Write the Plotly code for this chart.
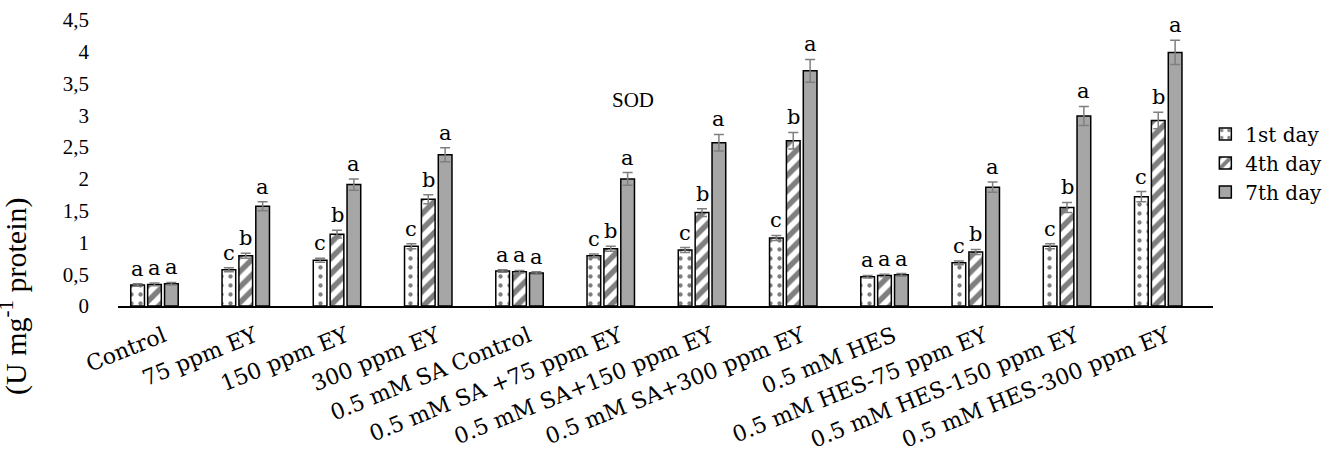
import plotly.graph_objects as go

categories = ["Control", "75 ppm EY", "150 ppm EY", "300 ppm EY", "0.5 mM SA Control",
              "0.5 mM SA +75 ppm EY", "0.5 mM SA+150 ppm EY", "0.5 mM SA+300 ppm EY",
              "0.5 mM HES", "0.5 mM HES-75 ppm EY", "0.5 mM HES-150 ppm EY", "0.5 mM HES-300 ppm EY"]
series_names = ["1st day", "4th day", "7th day"]
day1 = [0.33, 0.57, 0.72, 0.94, 0.55, 0.79, 0.88, 1.07, 0.46, 0.68, 0.94, 1.72]
day4 = [0.34, 0.79, 1.13, 1.68, 0.54, 0.90, 1.47, 2.60, 0.48, 0.85, 1.55, 2.92]
day7 = [0.35, 1.57, 1.91, 2.38, 0.52, 2.00, 2.57, 3.70, 0.49, 1.87, 2.99, 3.99]
err1 = [0.02, 0.03, 0.03, 0.04, 0.02, 0.03, 0.04, 0.04, 0.02, 0.03, 0.04, 0.08]
err4 = [0.02, 0.04, 0.06, 0.07, 0.02, 0.04, 0.06, 0.13, 0.02, 0.04, 0.08, 0.13]
err7 = [0.02, 0.07, 0.09, 0.11, 0.02, 0.10, 0.13, 0.18, 0.02, 0.08, 0.15, 0.19]
letters1 = ["a", "c", "c", "c", "a", "c", "c", "c", "a", "c", "c", "c"]
letters4 = ["a", "b", "b", "b", "a", "b", "b", "b", "a", "b", "b", "b"]
letters7 = ["a", "a", "a", "a", "a", "a", "a", "a", "a", "a", "a", "a"]
y_ticks = [0, 0.5, 1, 1.5, 2, 2.5, 3, 3.5, 4, 4.5]
y_tick_labels = ["0", "0,5", "1", "1,5", "2", "2,5", "3", "3,5", "4", "4,5"]

values = [day1, day4, day7]
errors = [err1, err4, err7]
letters = [letters1, letters4, letters7]
patterns = [
    dict(shape=".", fgcolor="black", bgcolor="white", size=9, solidity=0.18),
    dict(shape="/", fgcolor="black", bgcolor="white", size=11, solidity=0.5),
    None,
]
fills = ["white", "white", "#a6a6a6"]

group_shift = -0.1
spacing = 0.185
bar_w = 0.15

fig = go.Figure()
annotations = []
for k in range(3):
    xs = [i + group_shift + (k - 1) * spacing for i in range(len(categories))]
    marker = dict(color=fills[k], line=dict(color="black", width=1.5))
    if patterns[k] is not None:
        marker["pattern"] = patterns[k]
    fig.add_trace(go.Bar(
        x=xs, y=values[k], width=bar_w, name=series_names[k], marker=marker,
        error_y=dict(type="data", array=errors[k], color="#7f7f7f", thickness=1.5, width=5),
    ))
    for i, x in enumerate(xs):
        annotations.append(dict(
            x=x, y=values[k][i] + errors[k][i], xref="x", yref="y", text=letters[k][i],
            showarrow=False, yanchor="bottom", yshift=1,
            font=dict(family="DejaVu Serif", size=21, color="black")))

annotations.append(dict(x=0.47, y=0.72, xref="paper", yref="paper", text="SOD", showarrow=False,
                        xanchor="center", yanchor="middle",
                        font=dict(family="Liberation Serif", size=21, color="black")))
annotations.append(dict(x=-0.095, y=0.035, xref="paper", yref="paper",
                        text="(U mg<sup>-1</sup> protein)", showarrow=False, textangle=-90,
                        xanchor="center", yanchor="middle",
                        font=dict(family="Liberation Serif", size=30, color="black")))

fig.update_layout(
    width=1339, height=450,
    margin=dict(l=118, r=119, t=20, b=144),
    paper_bgcolor="white", plot_bgcolor="white",
    barmode="overlay",
    showlegend=True,
    legend=dict(x=0.993, xanchor="left", y=0.5, yanchor="middle",
                font=dict(family="DejaVu Serif", size=20, color="black"),
                itemwidth=30, tracegroupgap=0),
    annotations=annotations,
)
fig.update_xaxes(
    range=[-0.5, 11.5], tickmode="array", tickvals=list(range(len(categories))),
    ticktext=categories, automargin=False,
    tickangle=-22, showline=True, linecolor="black", linewidth=2, showgrid=False, zeroline=False,
    ticks="", ticklabelstandoff=7, tickfont=dict(family="DejaVu Serif", size=22, color="black"),
)
fig.update_yaxes(
    range=[0, 4.5], tickmode="array", tickvals=y_ticks, ticktext=y_tick_labels, automargin=False,
    showline=False, showgrid=False, zeroline=False, ticks="", ticklabelstandoff=28,
    tickfont=dict(family="Liberation Serif", size=21, color="black"),
)
fig.write_html("out.html", config={"displayModeBar": False},
               post_script="document.body.style.margin='0';")
